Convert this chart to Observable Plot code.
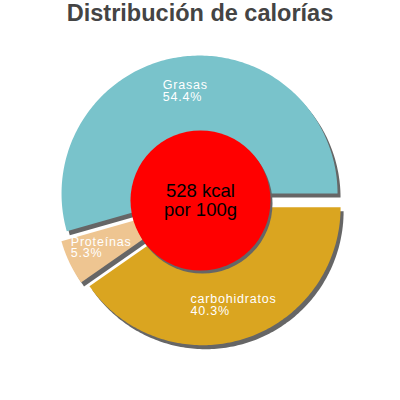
<!DOCTYPE html>
<html><head><meta charset="utf-8">
<script src="https://cdn.jsdelivr.net/npm/d3@7"></script>
<script src="https://cdn.jsdelivr.net/npm/@observablehq/plot@0.6"></script>
<style>
body{margin:0;background:#fff;}
#title{height:36px;line-height:36px;text-align:center;font:bold 23.5px "Liberation Sans",Arial,sans-serif;color:#444;white-space:nowrap;}
#chart svg{display:block;overflow:visible;}
</style></head><body>
<div id="title">Distribución de calorías</div>
<div id="chart"></div>
<script>
// ---- data ----
const categories = ["Grasas", "Proteínas", "carbohidratos"];
const percents = [54.4, 5.3, 40.3];
const colors = ["#79c3cb", "#eec591", "#daa520"];
const centerLines = ["528 kcal", "por 100g"];

// ---- geometry (unit-radius pie) ----
const R = 138;              // pie radius in px
const explode = 7 / R;      // explode offset in units
const labelR = 110 / R;     // label radius
const innerR = 70;          // center disc radius in px
const labelFont = 12.5, labelSpacing = 0.8;
const fontFamily = '"Liberation Sans", Arial, sans-serif';

const total = d3.sum(percents);
let acc = 0;
const slices = categories.map((name, i) => {
  const a0 = acc / total * 2 * Math.PI;
  acc += percents[i];
  const a1 = acc / total * 2 * Math.PI;
  return {name, value: percents[i], a0, a1, mid: (a0 + a1) / 2};
});

const slicePoints = [];
for (const s of slices) {
  const cx = explode * Math.cos(s.mid), cy = explode * Math.sin(s.mid);
  slicePoints.push({name: s.name, x: cx, y: cy});
  const n = Math.max(4, Math.ceil((s.a1 - s.a0) / (Math.PI / 180)));
  for (let k = 0; k <= n; k++) {
    const a = s.a0 + (s.a1 - s.a0) * k / n;
    slicePoints.push({name: s.name, x: cx + Math.cos(a), y: cy + Math.sin(a)});
  }
  slicePoints.push({name: s.name, x: cx, y: cy});
}

const ctx = document.createElement("canvas").getContext("2d");
ctx.font = `${labelFont}px ${fontFamily}`;
const labels = slices.map(s => {
  const lines = [s.name, s.value.toFixed(1) + "%"];
  const w = d3.max(lines, t => ctx.measureText(t).width + labelSpacing * t.length);
  return {
    text: lines.join("\n"),
    x: labelR * Math.cos(s.mid) - (w / 2) / R,
    y: labelR * Math.sin(s.mid)
  };
});
const center = [{x: 0, y: 0, text: centerLines.join("\n")}];

const W = 400, H = 364, cyPx = 164;
const chart = Plot.plot({
  width: W, height: H,
  margin: 0,
  style: {background: "#fff", fontFamily},
  x: {domain: [-1, 1], range: [W / 2 - R, W / 2 + R], axis: null},
  y: {domain: [-1, 1], range: [cyPx + R, cyPx - R], axis: null},
  color: {domain: categories, range: colors},
  marks: [
    Plot.line(slicePoints, {x: "x", y: "y", z: "name", fill: "#666", stroke: "none", dx: 3, dy: 4, curve: "linear"}),
    Plot.line(slicePoints, {x: "x", y: "y", z: "name", fill: "name", stroke: "none", curve: "linear"}),
    Plot.dot(center, {x: "x", y: "y", r: innerR, fill: "#666", stroke: "none", dx: 2, dy: 3}),
    Plot.dot(center, {x: "x", y: "y", r: innerR, fill: "#ff0000", stroke: "none"}),
    Plot.text(labels, {x: "x", y: "y", text: "text", textAnchor: "start", lineAnchor: "middle", lineHeight: 0.95,
      fontSize: labelFont, fill: "#fff"}),
    Plot.text(center, {x: "x", y: "y", text: "text", textAnchor: "middle", lineAnchor: "middle", lineHeight: 1,
      fontSize: 18.5, fill: "#000"})
  ]
});
chart.querySelectorAll('g[fill="#fff"] text, g[fill="#fff"] tspan').forEach(el => {
  el.setAttribute("letter-spacing", labelSpacing);
  el.style.letterSpacing = labelSpacing + "px";
});
document.getElementById("chart").appendChild(chart);
</script>
</body></html>
